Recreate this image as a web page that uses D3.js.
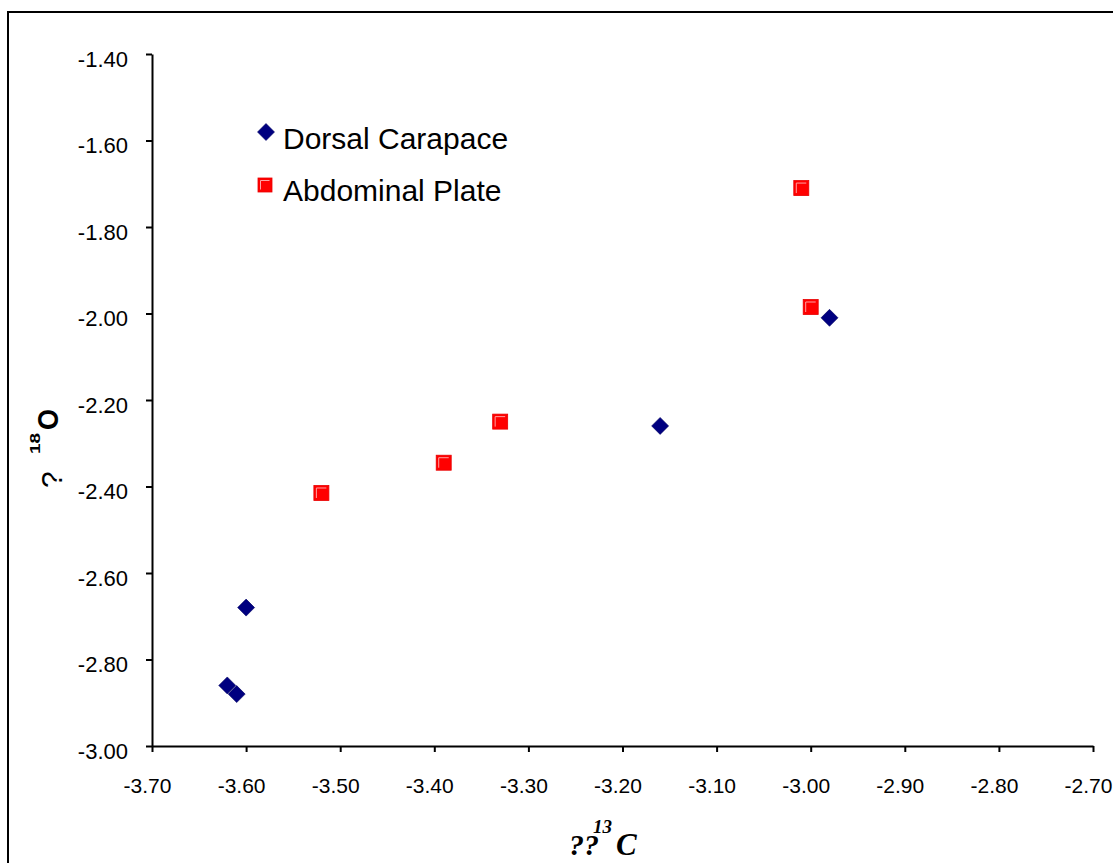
<!DOCTYPE html>
<html>
<head>
<meta charset="utf-8">
<script src="https://cdn.jsdelivr.net/npm/d3@7"></script>
<style>
  html, body { margin: 0; padding: 0; background: #fff; }
  svg { display: block; }
</style>
</head>
<body>
<svg id="chart" width="1113" height="863"></svg>
<script>
// Isotope values: δ13C (x) and δ18O (y)
const seriesNames = ["Dorsal Carapace", "Abdominal Plate"];
const dorsalX = [-3.62, -3.61, -3.60, -3.16, -2.98];
const dorsalY = [-2.86, -2.88, -2.68, -2.26, -2.01];
const abdominalX = [-3.52, -3.39, -3.33, -3.01, -3.00];
const abdominalY = [-2.415, -2.345, -2.25, -1.71, -1.985];
const xTicks = [-3.70, -3.60, -3.50, -3.40, -3.30, -3.20, -3.10, -3.00, -2.90, -2.80, -2.70];
const yTicks = [-3.00, -2.80, -2.60, -2.40, -2.20, -2.00, -1.80, -1.60, -1.40];

const svg = d3.select("#chart");
const font = "'Liberation Sans', Arial, sans-serif";
const serif = "'Liberation Serif', 'Times New Roman', serif";

// Outer frame (runs off the right and bottom edges)
svg.append("rect")
  .attr("x", 8).attr("y", 12)
  .attr("width", 1200).attr("height", 1000)
  .attr("fill", "#fff").attr("stroke", "#000").attr("stroke-width", 2);

const x = d3.scaleLinear().domain([-3.70, -2.70]).range([152, 1093]);
const y = d3.scaleLinear().domain([-3.00, -1.40]).range([746, 54]);

const fmt = d => d.toFixed(2);

// X axis
const gx = svg.append("g")
  .attr("transform", `translate(0,${y(-3.00)})`)
  .call(d3.axisBottom(x).tickValues(xTicks).tickFormat(fmt).tickSizeOuter(0).tickSizeInner(6).tickPadding(26));
gx.selectAll("text").attr("font-family", font).attr("font-size", 21).attr("fill", "#000").attr("dx", -5);

// Y axis
const gy = svg.append("g")
  .attr("transform", `translate(${x(-3.70)},0)`)
  .call(d3.axisLeft(y).tickValues(yTicks).tickFormat(fmt).tickSizeOuter(0).tickSizeInner(6).tickPadding(18));
gy.selectAll("text").attr("font-family", font).attr("font-size", 22).attr("fill", "#000").attr("dy", "0.55em");

[gx, gy].forEach(g => {
  g.selectAll("path.domain").attr("stroke", "#000").attr("stroke-width", 2);
  g.selectAll(".tick line").attr("stroke", "#000").attr("stroke-width", 2);
});

// Marker shapes
const diamond = (sel, cx, cy, r) => sel.append("path")
  .attr("d", `M${cx},${cy - r}L${cx + r},${cy}L${cx},${cy + r}L${cx - r},${cy}Z`)
  .attr("fill", "#000080").attr("stroke", "#000060").attr("stroke-width", 0.6);

const square = (sel, cx, cy, s) => {
  const h = s / 2;
  sel.append("rect")
    .attr("x", cx - h).attr("y", cy - h).attr("width", s).attr("height", s)
    .attr("fill", "#ff0000").attr("stroke", "#e80000").attr("stroke-width", 0.8);
  sel.append("path")
    .attr("d", `M${cx - h + 2.5},${cy + h - 2.5}V${cy - h + 2.5}H${cx + h - 2.5}`)
    .attr("fill", "none").attr("stroke", "#ffa0a0").attr("stroke-width", 1);
};

const marks = svg.append("g");
dorsalX.forEach((v, i) => diamond(marks, x(v), y(dorsalY[i]), 8.5));
abdominalX.forEach((v, i) => square(marks, x(v), y(abdominalY[i]), 15));

// Legend
const legend = svg.append("g");
diamond(legend, 266, 132, 8.5);
legend.append("text").attr("x", 283).attr("y", 149)
  .attr("font-family", font).attr("font-size", 30).text(seriesNames[0]);
square(legend, 265, 185, 14);
legend.append("text").attr("x", 283).attr("y", 201)
  .attr("font-family", font).attr("font-size", 30).text(seriesNames[1]);

// X axis title
const xt = svg.append("g").attr("font-family", serif).attr("font-weight", "bold").attr("font-style", "italic");
xt.append("text").attr("x", 569).attr("y", 855).attr("font-size", 30).text("??");
xt.append("text").attr("x", 593).attr("y", 833).attr("font-size", 19).text("13");
xt.append("text").attr("x", 616).attr("y", 855).attr("font-size", 31).text("C");

// Y axis title (rotated)
const yt = svg.append("g").attr("transform", "translate(59,0) rotate(-90)").attr("font-family", font);
yt.append("text").attr("x", -488).attr("y", 3).attr("font-size", 30).text("?");
yt.append("text").attr("x", -454).attr("y", -19).attr("font-size", 14).attr("font-weight", "bold")
  .attr("textLength", 21).attr("lengthAdjust", "spacingAndGlyphs").text("18");
yt.append("text").attr("x", -430).attr("y", -1).attr("font-size", 30).attr("font-weight", "bold")
  .attr("textLength", 21).attr("lengthAdjust", "spacingAndGlyphs").text("O");
</script>
</body>
</html>
